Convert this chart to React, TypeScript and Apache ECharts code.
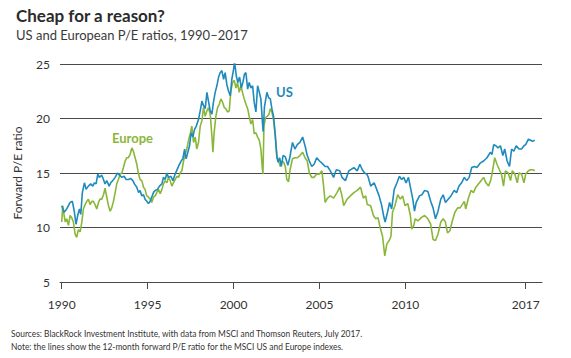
import React, { useEffect, useRef } from "react";
import * as echarts from "echarts";

const TITLE = "Cheap for a reason?";
const SUBTITLE = "US and European P/E ratios, 1990\u20132017";
const Y_NAME = "Forward P/E ratio";
const SOURCE_1 = "Sources: BlackRock Investment Institute, with data from MSCI and Thomson Reuters, July 2017.";
const SOURCE_2 = "Note: the lines show the 12-month forward P/E ratio for the MSCI US and Europe indexes.";

const xTickYears = [1990, 1995, 2000, 2005, 2010, 2017];
const yTicks = [5, 10, 15, 20, 25];

// [year, forward P/E]
const usSeries: [number, number][] = [
  [1990.0, 12.0], [1990.14, 11.4], [1990.29, 11.7], [1990.49, 12.3], [1990.62, 12.4], [1990.74, 11.4],
  [1990.83, 10.3], [1990.93, 11.1], [1991.03, 11.7], [1991.11, 11.2], [1991.2, 13.2], [1991.32, 14.1],
  [1991.42, 13.5], [1991.55, 13.8], [1991.69, 14.0], [1991.81, 13.8], [1991.9, 14.1], [1992.0, 14.0],
  [1992.1, 14.9], [1992.19, 14.6], [1992.33, 14.8], [1992.43, 14.4], [1992.52, 14.0], [1992.62, 14.3],
  [1992.76, 13.8], [1992.85, 14.1], [1992.97, 14.3], [1993.11, 14.6], [1993.24, 15.0], [1993.36, 14.8],
  [1993.5, 14.6], [1993.63, 14.7], [1993.75, 14.4], [1993.88, 14.4], [1994.02, 14.5], [1994.14, 14.3],
  [1994.23, 14.0], [1994.37, 13.7], [1994.47, 13.2], [1994.56, 13.4], [1994.66, 12.9], [1994.76, 13.0],
  [1994.85, 12.6], [1994.95, 12.4], [1995.05, 12.2], [1995.15, 12.4], [1995.24, 12.8], [1995.34, 13.2],
  [1995.44, 13.4], [1995.57, 13.5], [1995.69, 13.8], [1995.83, 14.0], [1995.92, 14.6], [1996.02, 14.4],
  [1996.12, 15.0], [1996.21, 14.6], [1996.35, 14.7], [1996.47, 14.3], [1996.6, 14.9], [1996.74, 15.4],
  [1996.85, 15.8], [1996.95, 16.1], [1997.05, 16.3], [1997.15, 17.2], [1997.24, 16.3], [1997.34, 16.9],
  [1997.44, 17.5], [1997.53, 18.7], [1997.63, 18.3], [1997.73, 19.0], [1997.83, 19.3], [1997.96, 19.9],
  [1998.06, 20.7], [1998.16, 21.6], [1998.25, 21.2], [1998.35, 20.9], [1998.45, 22.4], [1998.54, 21.6],
  [1998.64, 20.7], [1998.74, 20.4], [1998.83, 21.5], [1998.93, 22.4], [1999.03, 23.0], [1999.13, 23.8],
  [1999.22, 24.2], [1999.32, 24.4], [1999.42, 23.6], [1999.51, 24.2], [1999.61, 23.1], [1999.71, 22.5],
  [1999.81, 22.1], [1999.9, 23.6], [2000.0, 24.5], [2000.06, 25.2], [2000.16, 23.9], [2000.25, 23.3],
  [2000.35, 23.8], [2000.45, 22.8], [2000.54, 23.3], [2000.64, 24.1], [2000.72, 24.2], [2000.82, 22.7],
  [2000.91, 23.3], [2001.01, 22.8], [2001.11, 23.0], [2001.2, 21.5], [2001.3, 20.6], [2001.4, 23.0],
  [2001.5, 22.4], [2001.59, 21.8], [2001.67, 19.9], [2001.72, 18.8], [2001.8, 21.1], [2001.94, 22.4],
  [2002.04, 21.9], [2002.14, 21.8], [2002.23, 20.9], [2002.33, 20.2], [2002.43, 18.4], [2002.52, 16.6],
  [2002.58, 16.0], [2002.68, 16.4], [2002.78, 15.6], [2002.88, 16.6], [2003.01, 16.5], [2003.16, 15.7],
  [2003.27, 16.4], [2003.43, 17.8], [2003.57, 17.2], [2003.71, 17.6], [2003.86, 17.8], [2004.02, 18.3],
  [2004.16, 17.5], [2004.29, 16.6], [2004.41, 16.1], [2004.55, 15.6], [2004.69, 15.8], [2004.84, 16.4],
  [2005.0, 16.1], [2005.14, 15.9], [2005.33, 15.6], [2005.47, 15.6], [2005.63, 15.2], [2005.82, 14.6],
  [2005.98, 15.3], [2006.18, 15.2], [2006.31, 14.6], [2006.51, 14.3], [2006.71, 15.2], [2007.0, 15.5],
  [2007.2, 15.2], [2007.35, 15.8], [2007.49, 15.3], [2007.63, 15.0], [2007.75, 14.9], [2007.82, 14.7],
  [2007.98, 13.8], [2008.18, 14.1], [2008.33, 13.5], [2008.47, 12.9], [2008.61, 12.1], [2008.73, 11.1],
  [2008.82, 10.5], [2008.96, 11.4], [2009.08, 12.3], [2009.2, 11.7], [2009.35, 13.5], [2009.51, 14.1],
  [2009.65, 14.7], [2009.78, 14.4], [2009.9, 14.6], [2010.04, 14.1], [2010.18, 14.6], [2010.29, 13.7],
  [2010.43, 12.6], [2010.53, 11.5], [2010.63, 12.3], [2010.82, 12.9], [2010.96, 13.0], [2011.12, 13.4],
  [2011.31, 13.3], [2011.47, 12.4], [2011.61, 11.8], [2011.75, 10.8], [2011.9, 11.5], [2012.06, 12.6],
  [2012.2, 13.0], [2012.33, 12.3], [2012.49, 12.6], [2012.65, 12.9], [2012.84, 13.4], [2012.98, 13.2],
  [2013.12, 13.8], [2013.27, 14.1], [2013.43, 14.6], [2013.57, 14.3], [2013.71, 14.6], [2013.86, 15.5],
  [2014.02, 15.6], [2014.16, 15.5], [2014.35, 15.9], [2014.55, 16.1], [2014.75, 16.4], [2014.94, 16.9],
  [2015.04, 16.7], [2015.14, 17.6], [2015.27, 17.5], [2015.39, 17.3], [2015.53, 17.5], [2015.67, 16.6],
  [2015.78, 17.2], [2015.92, 16.1], [2016.06, 15.6], [2016.18, 17.2], [2016.31, 17.0], [2016.45, 17.5],
  [2016.61, 17.2], [2016.76, 17.2], [2016.9, 17.5], [2017.0, 17.6], [2017.16, 18.1], [2017.29, 18.0],
  [2017.39, 17.9], [2017.53, 18.0],
];

const europeSeries: [number, number][] = [
  [1990.0, 10.5], [1990.06, 12.0], [1990.14, 11.1], [1990.21, 10.5], [1990.29, 10.8], [1990.39, 10.2],
  [1990.49, 11.1], [1990.58, 10.9], [1990.68, 10.5], [1990.78, 9.4], [1990.87, 9.1], [1990.97, 9.8],
  [1991.07, 9.6], [1991.17, 10.5], [1991.26, 11.7], [1991.36, 12.1], [1991.46, 12.4], [1991.55, 12.6],
  [1991.65, 12.1], [1991.75, 12.4], [1991.84, 12.4], [1991.94, 12.1], [1992.04, 11.7], [1992.14, 12.3],
  [1992.23, 12.6], [1992.33, 12.6], [1992.43, 13.0], [1992.52, 13.6], [1992.62, 12.8], [1992.72, 12.0],
  [1992.82, 11.5], [1992.91, 11.8], [1993.01, 12.4], [1993.11, 13.2], [1993.2, 14.0], [1993.3, 14.4],
  [1993.4, 14.9], [1993.5, 15.0], [1993.59, 15.5], [1993.69, 16.1], [1993.79, 16.4], [1993.88, 16.4],
  [1993.98, 16.7], [1994.08, 17.3], [1994.17, 17.0], [1994.27, 16.4], [1994.37, 15.8], [1994.47, 14.9],
  [1994.56, 14.4], [1994.66, 14.3], [1994.76, 13.7], [1994.85, 13.5], [1994.95, 12.9], [1995.05, 12.8],
  [1995.15, 12.6], [1995.24, 12.3], [1995.34, 12.8], [1995.44, 12.9], [1995.53, 13.2], [1995.63, 13.5],
  [1995.73, 13.1], [1995.83, 13.5], [1995.92, 14.0], [1996.02, 14.3], [1996.12, 14.1], [1996.21, 14.6],
  [1996.31, 14.3], [1996.41, 13.8], [1996.5, 14.1], [1996.6, 14.4], [1996.7, 14.7], [1996.8, 14.6],
  [1996.89, 15.0], [1996.99, 15.2], [1997.09, 16.1], [1997.18, 16.7], [1997.28, 17.2], [1997.38, 18.0],
  [1997.48, 18.6], [1997.57, 19.3], [1997.67, 17.8], [1997.77, 18.3], [1997.86, 17.2], [1997.96, 17.8],
  [1998.06, 19.3], [1998.16, 19.8], [1998.25, 21.0], [1998.35, 20.2], [1998.45, 20.7], [1998.54, 21.0],
  [1998.64, 20.4], [1998.74, 18.4], [1998.8, 16.9], [1998.87, 18.7], [1998.97, 20.2], [1999.07, 21.0],
  [1999.17, 21.3], [1999.26, 21.8], [1999.36, 21.5], [1999.46, 21.0], [1999.55, 20.9], [1999.65, 20.6],
  [1999.75, 20.7], [1999.84, 22.5], [1999.94, 23.3], [2000.04, 23.5], [2000.14, 22.8], [2000.23, 23.3],
  [2000.33, 22.4], [2000.43, 23.0], [2000.52, 22.4], [2000.62, 21.8], [2000.72, 21.3], [2000.82, 20.9],
  [2000.91, 20.2], [2001.01, 19.5], [2001.11, 19.9], [2001.2, 18.6], [2001.3, 18.7], [2001.4, 18.3],
  [2001.5, 18.0], [2001.59, 17.2], [2001.67, 15.5], [2001.71, 14.9], [2001.77, 19.3], [2001.86, 20.1],
  [2001.96, 20.2], [2002.06, 20.4], [2002.14, 20.9], [2002.23, 20.6], [2002.33, 19.8], [2002.43, 18.4],
  [2002.52, 16.4], [2002.62, 16.1], [2002.72, 15.6], [2002.82, 16.1], [2002.91, 16.0], [2003.01, 15.6],
  [2003.1, 14.4], [2003.2, 14.2], [2003.29, 15.3], [2003.43, 16.3], [2003.57, 16.4], [2003.71, 16.4],
  [2003.86, 16.6], [2004.02, 16.9], [2004.16, 16.4], [2004.29, 16.1], [2004.41, 15.0], [2004.55, 14.6],
  [2004.69, 14.6], [2004.84, 14.9], [2005.0, 14.9], [2005.14, 15.2], [2005.24, 13.8], [2005.33, 12.3],
  [2005.47, 12.7], [2005.63, 12.9], [2005.82, 12.7], [2006.02, 13.2], [2006.18, 13.7], [2006.31, 12.9],
  [2006.41, 12.0], [2006.61, 12.6], [2006.8, 12.9], [2007.0, 13.2], [2007.2, 13.4], [2007.39, 13.7],
  [2007.55, 12.7], [2007.69, 12.9], [2007.78, 12.1], [2007.98, 12.0], [2008.14, 11.1], [2008.27, 10.8],
  [2008.41, 10.9], [2008.53, 10.0], [2008.67, 9.2], [2008.8, 7.4], [2008.92, 8.5], [2009.06, 8.8],
  [2009.16, 9.2], [2009.25, 11.4], [2009.39, 12.0], [2009.55, 13.0], [2009.71, 12.6], [2009.84, 12.9],
  [2009.98, 12.0], [2010.14, 12.2], [2010.29, 11.1], [2010.37, 9.85], [2010.49, 10.2], [2010.57, 10.8],
  [2010.73, 10.6], [2010.92, 10.9], [2011.12, 11.1], [2011.31, 10.8], [2011.47, 10.3], [2011.61, 8.9],
  [2011.75, 8.8], [2011.9, 9.4], [2012.06, 10.5], [2012.2, 10.8], [2012.33, 10.5], [2012.45, 9.5],
  [2012.59, 9.7], [2012.73, 10.6], [2012.88, 11.4], [2013.04, 11.8], [2013.18, 11.8], [2013.31, 12.1],
  [2013.43, 12.4], [2013.51, 11.7], [2013.67, 12.7], [2013.82, 13.4], [2013.96, 13.2], [2014.1, 13.7],
  [2014.25, 14.0], [2014.41, 14.3], [2014.55, 14.6], [2014.69, 14.1], [2014.84, 13.8], [2014.96, 14.3],
  [2015.04, 14.9], [2015.2, 16.4], [2015.33, 15.8], [2015.47, 15.3], [2015.59, 14.9], [2015.71, 13.8],
  [2015.82, 15.2], [2015.98, 15.0], [2016.12, 14.3], [2016.22, 15.2], [2016.37, 14.9], [2016.51, 14.1],
  [2016.61, 15.0], [2016.76, 14.9], [2016.9, 14.1], [2017.0, 14.9], [2017.16, 15.2], [2017.29, 15.3],
  [2017.43, 15.3], [2017.53, 15.2],
];

const US_COLOR = "#1f8bbd";
const EU_COLOR = "#8ab73a";
const GRID_COLOR = "#4a4a4a";
const TEXT_COLOR = "#333333";
const FONT = "Lato, 'Open Sans', sans-serif";
const NOTE_FONT = "10px Lato, sans-serif";

export default function App() {
  const ref = useRef<HTMLDivElement>(null);
  useEffect(() => {
    if (!ref.current) return;
    const chart = echarts.init(ref.current, undefined, { renderer: "svg" });
    chart.setOption({
      animation: false,
      backgroundColor: "#ffffff",
      textStyle: { fontFamily: FONT },
      title: {
        text: TITLE,
        subtext: SUBTITLE,
        left: 11,
        top: 2,
        itemGap: 4,
        textStyle: { fontFamily: FONT, fontSize: 17, fontWeight: "bold", color: "#2b2b2b" },
        subtextStyle: { fontFamily: FONT, fontSize: 13, color: "#3a3a3a" },
      },
      grid: { left: 60, right: 29, top: 64, bottom: 76, containLabel: false },
      xAxis: {
        type: "value",
        min: 1989.9,
        max: 2017.95,
        splitLine: { show: false },
        axisLine: { show: true, lineStyle: { color: GRID_COLOR, width: 1 } },
        axisTick: {
          show: true,
          length: 7,
          inside: false,
          customValues: xTickYears,
          lineStyle: { color: GRID_COLOR, width: 1 },
        },
        axisLabel: {
          customValues: xTickYears,
          margin: 16,
          fontSize: 12,
          fontFamily: FONT,
          color: TEXT_COLOR,
          formatter: (v: number) => String(Math.round(v)),
        },
      },
      yAxis: {
        type: "value",
        min: 5,
        max: 25,
        interval: 5,
        name: Y_NAME,
        nameLocation: "middle",
        nameGap: 37,
        nameTextStyle: { fontFamily: FONT, fontSize: 12, color: TEXT_COLOR },
        axisLine: { show: false },
        axisTick: { show: false },
        splitLine: { show: true, lineStyle: { color: GRID_COLOR, width: 1 } },
        axisLabel: {
          margin: 10,
          fontSize: 12,
          fontFamily: FONT,
          color: TEXT_COLOR,
          padding: [0, 0, 8, 0],
          customValues: yTicks,
        },
      },
      series: [
        {
          name: "Europe",
          type: "line",
          data: europeSeries,
          showSymbol: false,
          symbol: "none",
          lineStyle: { color: EU_COLOR, width: 1.6 },
          z: 2,
        },
        {
          name: "US",
          type: "line",
          data: usSeries,
          showSymbol: false,
          symbol: "none",
          lineStyle: { color: US_COLOR, width: 1.6 },
          z: 3,
        },
      ],
      graphic: [
        {
          type: "text",
          x: 112,
          y: 131,
          style: { text: "Europe", fill: EU_COLOR, font: `bold 13px ${FONT}` },
        },
        {
          type: "text",
          x: 276,
          y: 85,
          style: { text: "US", fill: US_COLOR, font: `bold 13px ${FONT}` },
        },
        {
          type: "text",
          x: 11,
          y: 328,
          scaleX: 0.84,
          style: { text: SOURCE_1, fill: TEXT_COLOR, font: NOTE_FONT },
        },
        {
          type: "text",
          x: 11,
          y: 341,
          scaleX: 0.84,
          style: { text: SOURCE_2, fill: TEXT_COLOR, font: NOTE_FONT },
        },
      ],
    });
    return () => chart.dispose();
  }, []);
  return <div ref={ref} style={{ width: 571, height: 358, position: "absolute", left: 0, top: 0 }} />;
}
